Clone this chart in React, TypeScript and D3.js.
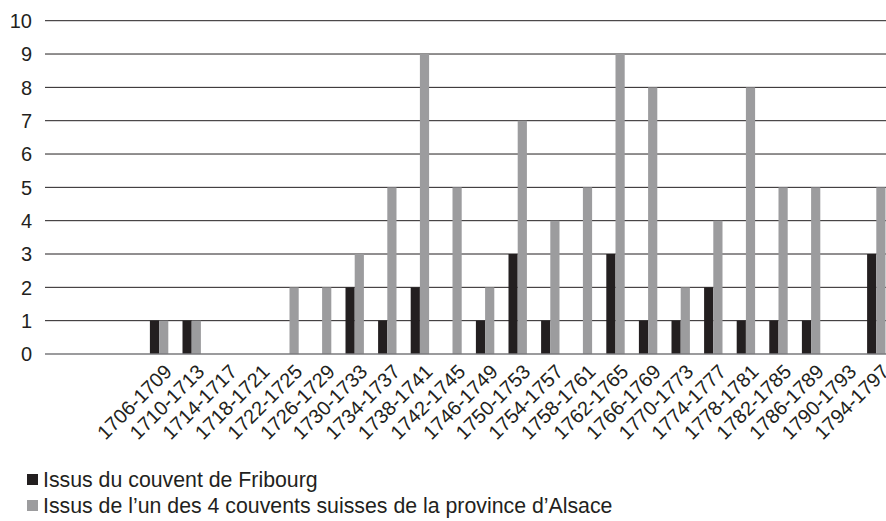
import React from 'react'
import * as d3 from 'd3'

// periods de 4 ans (les 3 premières cases de l'axe sont vides)
const blanks = ['', ' ', '  ']
const periods = [
  '1706-1709', '1710-1713', '1714-1717', '1718-1721', '1722-1725', '1726-1729',
  '1730-1733', '1734-1737', '1738-1741', '1742-1745', '1746-1749', '1750-1753',
  '1754-1757', '1758-1761', '1762-1765', '1766-1769', '1770-1773', '1774-1777',
  '1778-1781', '1782-1785', '1786-1789', '1790-1793', '1794-1797',
]
const fribourg = [1, 1, 0, 0, 0, 0, 2, 1, 2, 0, 1, 3, 1, 0, 3, 1, 1, 2, 1, 1, 1, 0, 3]
const alsace = [1, 1, 0, 0, 2, 2, 3, 5, 9, 5, 2, 7, 4, 5, 9, 8, 2, 4, 8, 5, 5, 0, 5]
const yTicks = [0, 1, 2, 3, 4, 5, 6, 7, 8, 9, 10]

const seriesNames = [
  'Issus du couvent de Fribourg',
  'Issus de l\u2019un des 4 couvents suisses de la province d\u2019Alsace',
]
const colors = ['#231f20', '#9c9c9e']

const W = 886
const H = 521
const FONT = '"Liberation Sans", Arial, Helvetica, sans-serif'

export default function App() {
  const left = 45
  const step = 32.6
  const domain = [...blanks, ...periods]

  const x = d3.scaleBand<string>()
    .domain(domain)
    .range([left, left + step * domain.length])
    .padding(0)

  const y = d3.scaleLinear().domain([0, 10]).range([354, 20.7])

  const barW = 9.2
  const inner = d3.scaleBand<number>()
    .domain([0, 1])
    .range([x.bandwidth() / 2 - barW, x.bandwidth() / 2 + barW])

  const series = [fribourg, alsace]

  return (
    <svg width={W} height={H} style={{ position: 'absolute', left: 0, top: 0 }}
      fontFamily={FONT}>
      <rect width={W} height={H} fill="#fff" />

      {/* grid */}
      {yTicks.filter((t) => t > 0).map((t) => (
        <line key={t} x1={left} x2={W} y1={y(t)} y2={y(t)}
          stroke="#231f20" strokeWidth={1} />
      ))}

      {/* y labels */}
      {yTicks.map((t) => (
        <text key={'l' + t} x={32} y={y(t)} dy="0.36em" textAnchor="end"
          fontSize={20} fill="#231f20">{t}</text>
      ))}

      {/* bars */}
      {series.map((vals, s) => (
        <g key={s} fill={colors[s]}>
          {vals.map((v, i) => v > 0 ? (
            <rect key={i}
              x={(x(periods[i]) as number) + (inner(s) as number)}
              y={y(v)}
              width={inner.bandwidth()}
              height={y(0) - y(v)} />
          ) : null)}
        </g>
      ))}

      {/* baseline */}
      <line x1={left} x2={W} y1={y(0)} y2={y(0)} stroke="#7a7a7c" strokeWidth={1.6} />

      {/* x labels */}
      {periods.map((p) => {
        const cx = (x(p) as number) + x.bandwidth() / 2
        return (
          <text key={p} transform={`translate(${cx + 14},${373}) rotate(-45)`}
            textAnchor="end" fontSize={20} fill="#231f20">{p}</text>
        )
      })}

      {/* legend */}
      {seriesNames.map((n, i) => (
        <g key={n} transform={`translate(0,${487 + i * 26})`}>
          <rect x={27} y={-13} width={11} height={11} fill={colors[i]} />
          <text x={43} y={0} fontSize={21.3} fill="#231f20">{n}</text>
        </g>
      ))}
    </svg>
  )
}
